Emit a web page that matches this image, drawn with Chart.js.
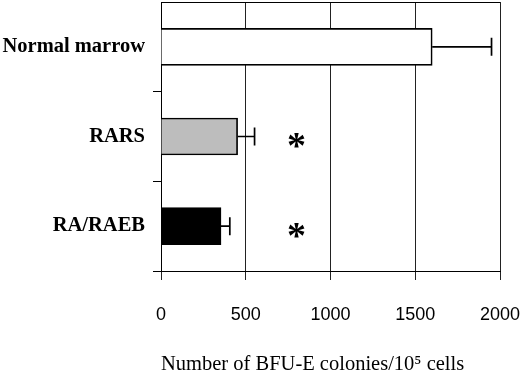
<!DOCTYPE html>
<html>
<head>
<meta charset="utf-8">
<script src="https://cdn.jsdelivr.net/npm/chart.js@4"></script>
<style>
  html, body { margin: 0; padding: 0; background: #fff; }
</style>
</head>
<body>
<canvas id="bfuChart" width="520" height="372"></canvas>
<script>
const categories = ['Normal marrow', 'RARS', 'RA/RAEB'];
const colonyMeans = [1600, 452, 354];
const colonyErrors = [350, 100, 52];
const barColors = ['#ffffff', '#bdbdbd', '#000000'];
const significance = ['', '*', '*'];
const starPosition = 800;
const xTicks = [0, 500, 1000, 1500, 2000];

const ctxBfu = document.getElementById('bfuChart');

// error bars + significance stars, drawn through the scales
const errorBarPlugin = {
    id: 'errorBars',
    afterDatasetsDraw(chart) {
        const ctx = chart.ctx;
        const x = chart.scales.x;
        const y = chart.scales.y;
        ctx.save();
        ctx.strokeStyle = '#000';
        ctx.lineWidth = 1.7;
        colonyMeans.forEach((v, i) => {
            const yc = y.getPixelForValue(i);
            const x0 = x.getPixelForValue(v);
            const x1 = x.getPixelForValue(v + colonyErrors[i]);
            ctx.beginPath();
            ctx.moveTo(x0, yc);
            ctx.lineTo(x1, yc);
            ctx.moveTo(x1, yc - 9);
            ctx.lineTo(x1, yc + 9);
            ctx.stroke();
            if (significance[i]) {
                ctx.fillStyle = '#000';
                ctx.font = 'bold 38px "Liberation Serif"';
                ctx.textAlign = 'center';
                ctx.textBaseline = 'alphabetic';
                const m = ctx.measureText(significance[i]);
                // centre the glyph itself a little below the bar centre
                const off = (m.actualBoundingBoxAscent - m.actualBoundingBoxDescent) / 2;
                ctx.fillText(significance[i], x.getPixelForValue(starPosition), yc + 4 + off);
            }
        });
        ctx.restore();
    }
};

// top border of the plot area
const frameTopPlugin = {
    id: 'frameTop',
    afterDraw(chart) {
        const a = chart.chartArea;
        const ctx = chart.ctx;
        ctx.save();
        ctx.strokeStyle = '#000';
        ctx.lineWidth = 1;
        ctx.beginPath();
        ctx.moveTo(a.left, a.top + 0.5);
        ctx.lineTo(a.right, a.top + 0.5);
        ctx.stroke();
        ctx.restore();
    }
};

const dataBfu = {
    labels: categories,
    datasets: [{
        data: colonyMeans,
        backgroundColor: barColors,
        borderColor: '#000',
        borderWidth: 1.7,
        barThickness: 37,
    }]
};

const configBfu = {
    type: 'bar',
    data: dataBfu,
    plugins: [errorBarPlugin, frameTopPlugin],
    options: {
        indexAxis: 'y',
        responsive: false,
        animation: false,
        layout: {
            padding: { top: 2, right: 20, left: 0, bottom: 0 }
        },
        plugins: {
            legend: { display: false },
            tooltip: { enabled: false }
        },
        scales: {
            x: {
                min: 0,
                max: 2000,
                afterBuildTicks: (scale) => {
                    scale.ticks = xTicks.map(v => ({ value: v }));
                },
                afterFit: (scale) => {
                    scale.height = 101;
                    scale.paddingLeft = 0;
                    scale.paddingRight = 0;
                },
                grid: {
                    color: '#222',
                    lineWidth: 1,
                    tickLength: 9,
                },
                border: { color: '#000', width: 1 },
                ticks: {
                    color: '#000',
                    padding: 24,
                    maxRotation: 0,
                    callback: (v) => String(v),
                    font: { family: '"Liberation Sans", Arial', size: 18 }
                },
                title: {
                    display: true,
                    align: 'start',
                    text: 'Number of BFU-E colonies/10⁵ cells',
                    color: '#000',
                    padding: { top: 0, bottom: -5 },
                    font: { family: '"Liberation Serif", "Times New Roman"', size: 20.5 }
                }
            },
            y: {
                afterFit: (scale) => {
                    scale.width = 161;
                    scale.paddingTop = 0;
                    scale.paddingBottom = 0;
                },
                grid: {
                    drawOnChartArea: false,
                    offset: true,
                    color: '#000',
                    tickColor: (c) => (c.index === 0 ? 'rgba(0,0,0,0)' : '#000'),
                    tickLength: 8,
                },
                border: { color: '#000', width: 1 },
                ticks: {
                    color: '#000',
                    padding: 8,
                    font: { family: '"Liberation Serif", "Times New Roman"', size: 20.5, weight: 'bold' }
                }
            }
        }
    }
};

const barChartBfu = new Chart(ctxBfu, configBfu);
</script>
</body>
</html>
